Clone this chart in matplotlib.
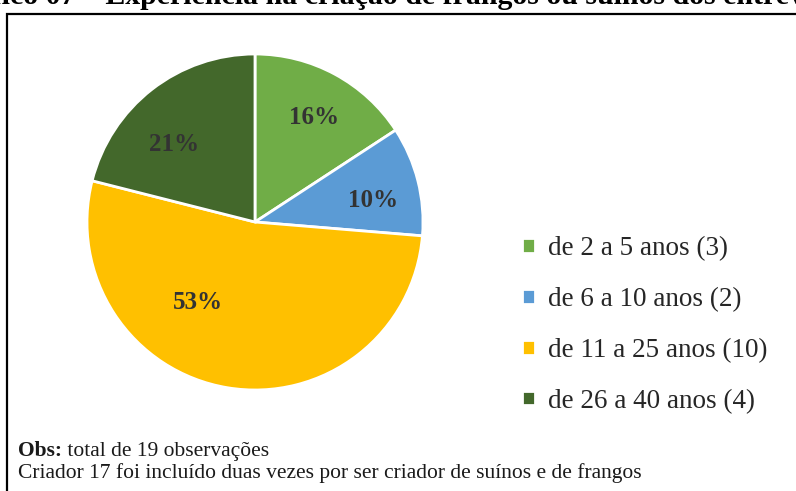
import matplotlib
matplotlib.use("Agg")
import matplotlib.pyplot as plt
from matplotlib.patches import Rectangle

# Chart data.
categories = ['de 2 a 5 anos (3)', 'de 6 a 10 anos (2)',
              'de 11 a 25 anos (10)', 'de 26 a 40 anos (4)']
counts = [3, 2, 10, 4]
pctLabels = ['16%', '10%', '53%', '21%']
colors = ['#70AD47', '#5B9BD5', '#FFC000', '#43682B']

titleText = 'Gráfico 07 – Experiência na criação de frangos ou suínos dos entrevistados'
titlePrefix = 'Gráfico 07 – '
noteBold = 'Obs:'
noteLine1 = ' total de 19 observações'
noteLine2 = 'Criador 17 foi incluído duas vezes por ser criador de suínos e de frangos'

# Label placement inside the pie (fractions of the radius).
labelPos = [(0.35, 0.62), (0.70, 0.13), (-0.34, -0.48), (-0.48, 0.46)]

W, H = 796, 491
fig = plt.figure(figsize=(W / 100, H / 100), dpi=100, facecolor='white')
serif = 'Liberation Serif'

# Frame around the chart (runs off the right and bottom edges).
fig.patches.append(Rectangle((7.5 / W, -0.1), 1.2, 1 - 13.5 / H + 0.1,
                             transform=fig.transFigure, fill=False,
                             edgecolor='black', linewidth=1.6, clip_on=False))

# Pie chart.
cx, cy, r = 255, 222, 168
ax = fig.add_axes([(cx - r) / W, (H - cy - r) / H, 2 * r / W, 2 * r / H])
wedges, _ = ax.pie(counts, colors=colors, startangle=90, counterclock=False,
                   wedgeprops=dict(edgecolor='white', linewidth=2))
ax.set_xlim(-1, 1)
ax.set_ylim(-1, 1)
ax.set_aspect('equal')

# Percentage labels inside each slice.
for (lx, ly), lab in zip(labelPos, pctLabels):
  ax.text(lx, ly, lab, ha='center', va='center', fontsize=18,
          fontweight='bold', family=serif, color='#333333')

# Legend on the right.
lgd = fig.legend(wedges, categories, loc='center left',
                 bbox_to_anchor=(498 / W, 1 - 325 / H), frameon=False,
                 prop={'family': serif, 'size': 19.5}, handlelength=0.45,
                 handleheight=0.45, handletextpad=0.5, labelspacing=0.95)
for t in lgd.get_texts():
  t.set_color('#262626')

# Title, partly cut off by the top and left edges.
fig.canvas.draw()
rend = fig.canvas.get_renderer()
tmp = fig.text(0, 0, titlePrefix, fontsize=21.5, fontweight='bold', family=serif)
prefW = tmp.get_window_extent(rend).width
tmp.remove()
fig.text((105 - prefW) / W, 1 - 4 / H, titleText, fontsize=21.5,
         fontweight='bold', family=serif, va='baseline', color='black')

# Note at the bottom.
t1 = fig.text(18 / W, 1 - 456 / H, noteBold, fontsize=15.5, fontweight='bold',
              family=serif, va='baseline', color='#1a1a1a')
fig.canvas.draw()
bw = t1.get_window_extent(rend).width
fig.text((18 + bw) / W, 1 - 456 / H, noteLine1, fontsize=15.5, family=serif,
         va='baseline', color='#1a1a1a')
fig.text(18 / W, 1 - 478 / H, noteLine2, fontsize=15.5, family=serif,
         va='baseline', color='#1a1a1a')

fig.savefig('out.png', dpi=100, facecolor='white')
